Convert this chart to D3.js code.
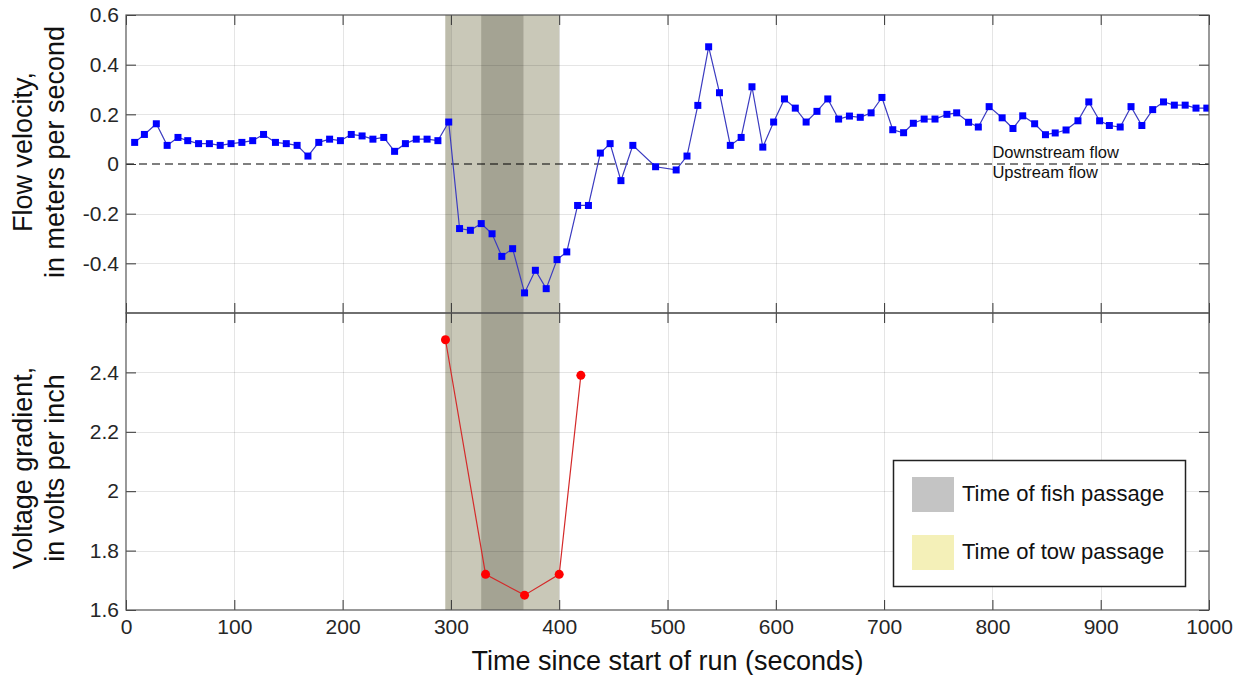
<!DOCTYPE html>
<html>
<head>
<meta charset="utf-8">
<script src="https://cdn.jsdelivr.net/npm/d3@7"></script>
<style>
  html, body { margin: 0; padding: 0; background: #fff; }
  svg { display: block; font-family: "Liberation Sans", Arial, sans-serif; }
</style>
</head>
<body>
<svg id="chart" width="1243" height="675"></svg>
<script>
// ---------------- data ----------------
const velTime = [8,17,28,38,48,57,67,77,87,97,107,117,127,138,148,158,168,178,188,198,208,218,228,238,248,258,268,278,288,298,
  308,318,328,338,347,357,368,378,388,398,407,417,427,438,447,457,468,
  489,508,518,528,538,548,558,568,578,588,598,608,618,628,638,648,658,668,678,688,698,708,718,727,737,747,758,767,778,787,
  797,809,819,828,839,849,858,868,879,889,899,908,918,928,938,948,958,968,978,988,998];
const velocity = [0.087,0.119,0.162,0.075,0.107,0.094,0.082,0.082,0.075,0.082,0.087,0.094,0.119,0.087,0.082,0.075,0.032,0.087,0.100,0.094,
  0.119,0.113,0.100,0.107,0.051,0.082,0.100,0.100,0.094,0.169,
  -0.260,-0.267,-0.240,-0.281,-0.372,-0.341,-0.519,-0.428,-0.502,-0.385,-0.354,-0.167,-0.167,0.044,0.082,-0.067,0.075,
  -0.011,-0.024,0.032,0.236,0.472,0.287,0.075,0.107,0.311,0.068,0.169,0.262,0.225,0.169,0.212,0.262,0.181,0.193,0.188,0.206,
  0.268,0.138,0.126,0.164,0.181,0.181,0.200,0.206,0.168,0.149,0.231,0.186,0.143,0.194,0.162,0.118,0.125,0.137,0.174,0.250,
  0.174,0.155,0.149,0.231,0.155,0.219,0.250,0.237,0.237,0.225,0.225];
const voltTime = [295, 332, 368, 400, 420];
const voltage = [2.51, 1.72, 1.65, 1.72, 2.39];
const towPassage = [295, 400];
const fishPassage = [328, 367];
const xTicks = [0,100,200,300,400,500,600,700,800,900,1000];
const velTicks = [-0.4,-0.2,0,0.2,0.4,0.6];
const voltTicks = [1.6,1.8,2.0,2.2,2.4];
const legendLabels = ["Time of fish passage", "Time of tow passage"];

// ---------------- layout ----------------
const svg = d3.select("#chart");
const L = 126, R = 1209, T1 = 15, B1 = 313, T2 = 313, B2 = 610;
const x = d3.scaleLinear().domain([0, 1000]).range([L, R]);
const yV = d3.scaleLinear().domain([-0.6, 0.6]).range([B1, T1]);
const yG = d3.scaleLinear().domain([1.6, 2.6]).range([B2, T2]);
const fmt = d => (Math.round(d*10)/10).toString();

function panel(y, top, bottom, yticks, clipId) {
  const g = svg.append("g");
  g.append("clipPath").attr("id", clipId).append("rect")
    .attr("x", L).attr("y", top).attr("width", R - L).attr("height", bottom - top);
  const inner = g.append("g").attr("clip-path", `url(#${clipId})`);
  // bands
  inner.append("rect").attr("x", x(towPassage[0])).attr("width", x(towPassage[1]) - x(towPassage[0]))
    .attr("y", top).attr("height", bottom - top).attr("fill", "#c9c8b8");
  inner.append("rect").attr("x", x(towPassage[0])).attr("width", x(300) - x(towPassage[0]))
    .attr("y", top).attr("height", bottom - top).attr("fill", "#bdbcab");
  inner.append("rect").attr("x", x(fishPassage[0])).attr("width", x(fishPassage[1]) - x(fishPassage[0]))
    .attr("y", top).attr("height", bottom - top).attr("fill", "#a4a393");
  // grid
  const grid = inner.append("g").attr("stroke", "#000").attr("stroke-opacity", 0.1).attr("stroke-width", 1);
  xTicks.slice(1, -1).forEach(t => grid.append("line")
    .attr("x1", Math.round(x(t))+0.5).attr("x2", Math.round(x(t))+0.5).attr("y1", top).attr("y2", bottom));
  yticks.forEach(t => grid.append("line")
    .attr("x1", L).attr("x2", R).attr("y1", Math.round(y(t))+0.5).attr("y2", Math.round(y(t))+0.5));
  return {g, inner};
}

const p1 = panel(yV, T1, B1, velTicks.filter(v => v !== 0 && v !== 0.6), "c1");
const p2 = panel(yG, T2, B2, voltTicks.filter(v => v !== 1.6), "c2");

// zero line
p1.inner.append("line").attr("x1", L).attr("x2", R).attr("y1", yV(0)).attr("y2", yV(0))
  .attr("stroke", "#000").attr("stroke-width", 1.2).attr("stroke-dasharray", "8,5");
p1.g.append("text").attr("x", x(800)).attr("y", yV(0) - 6).attr("font-size", 16.5).attr("fill", "#111").text("Downstream flow");
p1.g.append("text").attr("x", x(800)).attr("y", yV(0) + 14).attr("font-size", 16.5).attr("fill", "#111").text("Upstream flow");

// velocity series
const velData = velTime.map((t, i) => [t, velocity[i]]);
p1.inner.append("path").datum(velData)
  .attr("d", d3.line().x(d => x(d[0])).y(d => yV(d[1])))
  .attr("fill", "none").attr("stroke", "#3b3bc0").attr("stroke-width", 1.2);
p1.inner.selectAll("rect.m").data(velData).join("rect").attr("class", "m")
  .attr("x", d => x(d[0]) - 3.5).attr("y", d => yV(d[1]) - 3.5)
  .attr("width", 7).attr("height", 7).attr("fill", "#0000ff");

// voltage series
const voltData = voltTime.map((t, i) => [t, voltage[i]]);
p2.g.append("path").datum(voltData)
  .attr("d", d3.line().x(d => x(d[0])).y(d => yG(d[1])))
  .attr("fill", "none").attr("stroke", "#d42a2a").attr("stroke-width", 1.2);
p2.g.selectAll("circle").data(voltData).join("circle")
  .attr("cx", d => x(d[0])).attr("cy", d => yG(d[1])).attr("r", 4.5).attr("fill", "#ff0000");

// axes (inward ticks, boxed)
function axes(y, top, bottom, yticks, showX) {
  const g = svg.append("g");
  const tickLen = 10;
  g.append("g").attr("transform", `translate(0,${bottom})`)
    .call(d3.axisBottom(x).tickValues(xTicks).tickSize(-tickLen).tickPadding(showX ? 9 : 0)
      .tickFormat(showX ? d3.format("d") : () => ""));
  g.append("g").attr("transform", `translate(0,${top})`)
    .call(d3.axisTop(x).tickValues(xTicks).tickSize(-tickLen).tickFormat(() => ""));
  g.append("g").attr("transform", `translate(${L},0)`)
    .call(d3.axisLeft(y).tickValues(yticks).tickSize(-tickLen).tickPadding(7).tickFormat(fmt));
  g.append("g").attr("transform", `translate(${R},0)`)
    .call(d3.axisRight(y).tickValues(yticks).tickSize(-tickLen).tickFormat(() => ""));
  g.selectAll(".domain").remove();
  g.selectAll(".tick line").attr("stroke", "#333").attr("stroke-width", 1);
  g.selectAll(".tick text").attr("font-size", 21).attr("fill", "#262626")
    .attr("font-family", "'Liberation Sans', Arial, sans-serif");
  g.append("rect").attr("x", L).attr("y", top).attr("width", R - L).attr("height", bottom - top)
    .attr("fill", "none").attr("stroke", "#555").attr("stroke-width", 1.2);
  return g;
}
const a1 = axes(yV, T1, B1, velTicks, false);
const a2 = axes(yG, T2, B2, voltTicks, true);

// axis titles
function ylabel(lines, cy) {
  const t = svg.append("text").attr("transform", `translate(0,${cy}) rotate(-90)`)
    .attr("text-anchor", "middle").attr("font-size", 27).attr("fill", "#111");
  t.append("tspan").attr("x", 0).attr("y", 32).text(lines[0]);
  t.append("tspan").attr("x", 0).attr("y", 64).text(lines[1]);
}
ylabel(["Flow velocity,", "in meters per second"], 152);
ylabel(["Voltage gradient,", "in volts per inch"], 468);
svg.append("text").attr("x", (L + R) / 2).attr("y", 670).attr("text-anchor", "middle")
  .attr("font-size", 27).attr("fill", "#111").text("Time since start of run (seconds)");

// legend
const lg = svg.append("g");
lg.append("rect").attr("x", 893.5).attr("y", 460.5).attr("width", 292).attr("height", 126)
  .attr("fill", "#fff").attr("stroke", "#222").attr("stroke-width", 1.5);
const swatch = ["#c4c4c4", "#f4f0b8"];
legendLabels.forEach((lab, i) => {
  const cy = 494 + i * 58;
  lg.append("rect").attr("x", 912).attr("y", cy - 17).attr("width", 42).attr("height", 35).attr("fill", swatch[i]);
  lg.append("text").attr("x", 962).attr("y", cy + 7).attr("font-size", 22).attr("fill", "#111").text(lab);
});
</script>
</body>
</html>
